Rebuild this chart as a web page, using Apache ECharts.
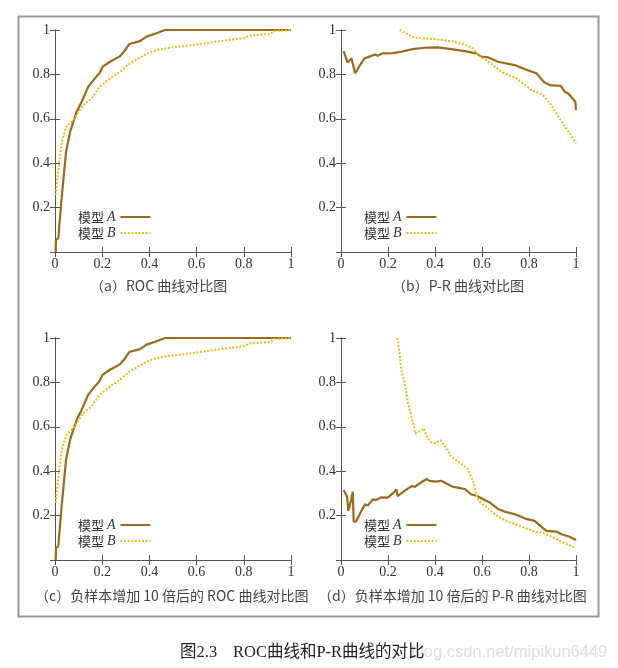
<!DOCTYPE html>
<html>
<head>
<meta charset="utf-8">
<style>
  html, body { margin: 0; padding: 0; background: #fff; }
  #main { width: 618px; height: 668px; }
</style>
<script src="https://cdn.jsdelivr.net/npm/echarts@6/dist/echarts.min.js"></script>
</head>
<body>
<div id="main"></div>
<script>
// ROC 曲线 (a)(c)，负样本增加后 ROC 基本不变
var rocA = [[0.003,0],[0.004,0.054],[0.014,0.062],[0.025,0.204],[0.038,0.354],[0.047,0.452],[0.064,0.542],
  [0.078,0.587],[0.092,0.632],[0.113,0.677],[0.141,0.745],[0.169,0.782],[0.188,0.805],[0.202,0.835],
  [0.233,0.857],[0.273,0.88],[0.292,0.902],[0.315,0.937],[0.36,0.95],[0.388,0.97],[0.43,0.985],
  [0.466,1],[1,1]];
var rocB = [[0.003,0.257],[0.01,0.33],[0.018,0.41],[0.03,0.5],[0.05,0.57],[0.07,0.585],[0.092,0.617],
  [0.12,0.662],[0.155,0.692],[0.19,0.745],[0.233,0.782],[0.275,0.812],[0.318,0.85],[0.353,0.872],
  [0.388,0.893],[0.43,0.91],[0.487,0.92],[0.544,0.927],[0.62,0.938],[0.685,0.948],[0.75,0.957],
  [0.798,0.963],[0.826,0.975],[0.911,0.982],[0.932,0.995],[1,1]];
// P-R 曲线 (b)
var prA = [[0.011,0.905],[0.028,0.854],[0.045,0.872],[0.06,0.805],[0.099,0.872],[0.121,0.88],[0.145,0.89],
  [0.156,0.884],[0.178,0.895],[0.22,0.896],[0.256,0.902],[0.305,0.914],[0.355,0.92],[0.412,0.922],
  [0.469,0.914],[0.526,0.905],[0.575,0.895],[0.597,0.88],[0.625,0.877],[0.668,0.857],[0.739,0.842],
  [0.781,0.824],[0.831,0.805],[0.866,0.764],[0.888,0.752],[0.935,0.748],[0.952,0.722],[0.966,0.715],
  [0.983,0.695],[0.997,0.677],[1,0.64]];
var prB = [[0.249,1],[0.313,0.965],[0.398,0.959],[0.469,0.95],[0.526,0.935],[0.561,0.917],[0.582,0.887],
  [0.625,0.86],[0.682,0.812],[0.746,0.782],[0.81,0.73],[0.859,0.707],[0.895,0.662],[0.938,0.587],
  [0.973,0.535],[1,0.49]];
// 负样本增加 10 倍后的 P-R 曲线 (d)
var prA10 = [[0.011,0.315],[0.026,0.285],[0.031,0.221],[0.043,0.27],[0.05,0.308],[0.054,0.173],[0.064,0.173],
  [0.085,0.218],[0.102,0.251],[0.114,0.245],[0.135,0.273],[0.149,0.27],[0.17,0.282],[0.199,0.281],
  [0.22,0.3],[0.236,0.318],[0.241,0.288],[0.27,0.311],[0.301,0.333],[0.315,0.33],[0.341,0.35],
  [0.366,0.365],[0.376,0.356],[0.405,0.353],[0.426,0.357],[0.455,0.341],[0.476,0.33],[0.497,0.326],
  [0.526,0.32],[0.554,0.296],[0.58,0.288],[0.611,0.27],[0.632,0.26],[0.668,0.23],[0.696,0.218],
  [0.739,0.206],[0.767,0.195],[0.788,0.185],[0.824,0.176],[0.852,0.15],[0.874,0.131],[0.916,0.128],
  [0.938,0.116],[0.973,0.105],[1,0.09]];
var prB10 = [[0.239,1],[0.249,0.935],[0.256,0.86],[0.27,0.8],[0.284,0.713],[0.298,0.653],[0.31,0.6],
  [0.315,0.57],[0.334,0.578],[0.352,0.593],[0.362,0.563],[0.381,0.533],[0.398,0.526],[0.412,0.533],
  [0.423,0.54],[0.438,0.518],[0.455,0.495],[0.469,0.465],[0.49,0.45],[0.518,0.428],[0.537,0.413],
  [0.554,0.375],[0.565,0.345],[0.58,0.278],[0.597,0.255],[0.625,0.233],[0.668,0.195],[0.71,0.173],
  [0.767,0.15],[0.824,0.128],[0.866,0.12],[0.909,0.098],[0.952,0.075],[1,0.053]];

var names = ['模型 A', '模型 B'];
var titles = ['（a）ROC 曲线对比图', '（b）P-R 曲线对比图',
  '（c）负样本增加 10 倍后的 ROC 曲线对比图', '（d）负样本增加 10 倍后的 P-R 曲线对比图'];

var colorA = '#9b6a1a', colorB = '#e6be1e';
var serif = 'Liberation Serif';
var cjk = 'Noto Sans CJK SC';

var panels = [
  {left: 55, top: 30, w: 236, a: rocA, b: rocB, tx: 90, ty: 288},
  {left: 341, top: 30, w: 235, a: prA, b: prB, tx: 392, ty: 288},
  {left: 55, top: 338, w: 236, a: rocA, b: rocB, tx: 35, ty: 598},
  {left: 341, top: 338, w: 235, a: prA10, b: prB10, tx: 318, ty: 598}
];

var grid = [], xAxis = [], yAxis = [], series = [], legend = [], graphic = [];

graphic.push({
  type: 'rect', left: 16, top: 14, z: -1,
  shape: {width: 580, height: 600},
  style: {fill: 'none', stroke: '#9a9a9a', lineWidth: 2}
});

panels.forEach(function(p, i){
  grid.push({left: p.left, top: p.top, width: p.w, height: 222});
  var tick = {show: true, inside: true, length: 5, lineStyle: {color: '#555'}};
  var line = {show: true, lineStyle: {color: '#555', width: 1}};
  // 下、左轴带刻度标签
  xAxis.push({
    type: 'value', gridIndex: i, min: 0, max: 1, interval: 0.2, position: 'bottom',
    axisLine: line, axisTick: tick, splitLine: {show: false},
    axisLabel: {margin: 5, color: '#333', fontFamily: serif, fontSize: 14}
  });
  yAxis.push({
    type: 'value', gridIndex: i, min: 0, max: 1, interval: 0.2, position: 'left',
    axisLine: line, axisTick: tick, splitLine: {show: false},
    axisLabel: {margin: 5, color: '#333', fontFamily: serif, fontSize: 14,
      formatter: function(v){ return v === 0 ? '' : v; }}
  });
  // 上、右镜像轴
  xAxis.push({
    type: 'value', gridIndex: i, min: 0, max: 1, interval: 0.2, position: 'top',
    axisLine: line, axisTick: tick, splitLine: {show: false}, axisLabel: {show: false}
  });
  yAxis.push({
    type: 'value', gridIndex: i, min: 0, max: 1, interval: 0.2, position: 'right',
    axisLine: line, axisTick: tick, splitLine: {show: false}, axisLabel: {show: false}
  });

  series.push({
    name: names[0], type: 'line', xAxisIndex: i * 2, yAxisIndex: i * 2,
    data: p.a, symbol: 'none', animation: false, color: colorA,
    lineStyle: {color: colorA, width: 2.2}
  });
  series.push({
    name: names[1], type: 'line', xAxisIndex: i * 2, yAxisIndex: i * 2,
    data: p.b, symbol: 'none', animation: false, color: colorB,
    lineStyle: {color: colorB, width: 2, type: [2, 1.6]}
  });

  legend.push({
    data: names, orient: 'vertical', align: 'right',
    left: p.left + 18, top: p.top + 175,
    itemWidth: 30, itemHeight: 10, itemGap: 2,
    selectedMode: false,
    itemStyle: {opacity: 0},
    formatter: function(n){ return '{c|模型 }{i|' + n.slice(3) + '}'; },
    textStyle: {
      rich: {
        c: {fontFamily: cjk, fontSize: 13, color: '#333', lineHeight: 16},
        i: {fontFamily: serif, fontSize: 14, fontStyle: 'italic', color: '#333', lineHeight: 16}
      }
    }
  });

  graphic.push({
    type: 'text', left: p.tx, top: p.ty - 9,
    style: {text: titles[i], font: '14px "' + cjk + '"', fill: '#444'}
  });
});

graphic.push({
  type: 'text', left: 411, top: 644, z: 1,
  style: {text: 'blog.csdn.net/mipikun6449', font: '16.5px "Liberation Sans"', fill: '#dedede'}
});
graphic.push({
  type: 'text', left: 180, top: 644, z: 2,
  style: {text: '图2.3', font: '16.5px "Liberation Serif", "Noto Sans CJK SC"', fill: '#222'}
});
graphic.push({
  type: 'text', left: 233, top: 644, z: 2,
  style: {text: 'ROC曲线和P-R曲线的对比', font: '16.5px "Liberation Serif", "Noto Sans CJK SC"', fill: '#222'}
});

var myChart = echarts.init(document.getElementById('main'));
myChart.setOption({
  backgroundColor: '#fff',
  animation: false,
  grid: grid,
  xAxis: xAxis,
  yAxis: yAxis,
  legend: legend,
  series: series,
  graphic: graphic
});
</script>
</body>
</html>
